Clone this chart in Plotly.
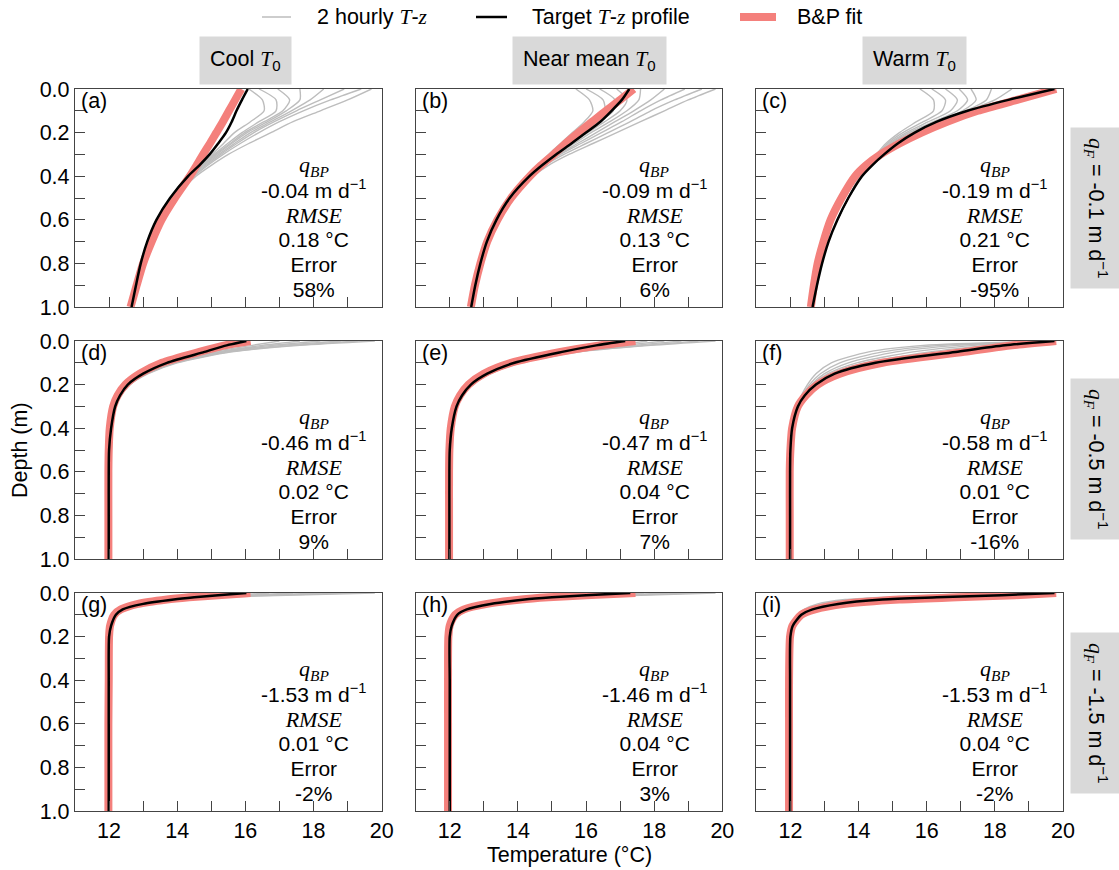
import plotly.graph_objects as go
from plotly.subplots import make_subplots

# ---------------- data ----------------
PANEL_LABELS = ["(a)", "(b)", "(c)", "(d)", "(e)", "(f)", "(g)", "(h)", "(i)"]
COL_TITLES = ["Cool", "Near mean", "Warm"]
ROW_QF = ["-0.1", "-0.5", "-1.5"]
Q_BP = ["-0.04", "-0.09", "-0.19", "-0.46", "-0.47", "-0.58", "-1.53", "-1.46", "-1.53"]
RMSE = ["0.18", "0.13", "0.21", "0.02", "0.04", "0.01", "0.01", "0.04", "0.04"]
ERROR = ["58%", "6%", "-95%", "9%", "7%", "-16%", "-2%", "3%", "-2%"]

X_MAJOR = [12, 14, 16, 18, 20]
X_MINOR = [13, 15, 17, 19]
Y_MAJOR = [0.0, 0.2, 0.4, 0.6, 0.8, 1.0]
Y_MINOR = [0.1, 0.3, 0.5, 0.7, 0.9]

# depth grids (m)
R1_DEPTH = [0, 0.05, 0.1, 0.15, 0.2, 0.25, 0.3, 0.35, 0.4, 0.5, 0.6, 0.7, 0.8, 0.9, 1.0]
R1_GRAY_DEPTH = [0, 0.05, 0.1, 0.15, 0.2, 0.25, 0.3, 0.35, 0.4, 0.5, 0.6]
R2_DEPTH = [0, 0.02, 0.05, 0.1, 0.15, 0.2, 0.25, 0.3, 0.4, 0.5, 0.6, 0.8, 1.0]
R2_GRAY_DEPTH = [0, 0.02, 0.05, 0.1, 0.15, 0.2, 0.25, 0.3, 0.4]
R3_DEPTH = [0, 0.01, 0.02, 0.03, 0.05, 0.075, 0.1, 0.15, 0.2, 0.4, 0.6, 0.8, 1.0]
R3_GRAY_DEPTH = [0, 0.01, 0.02, 0.03, 0.05, 0.075, 0.1, 0.15, 0.2]

# temperatures (deg C) — target profile, B&P fit, 2-hourly profiles
TARGET_A = [16.07, 15.9, 15.74, 15.6, 15.43, 15.2, 14.95, 14.65, 14.32, 13.79, 13.39, 13.12, 12.93, 12.79, 12.66]
FIT_A = [15.88, 15.7, 15.52, 15.34, 15.15, 14.96, 14.76, 14.57, 14.37, 13.93, 13.54, 13.25, 13.0, 12.81, 12.63]
GRAY_A = [
    [19.7, 19.0, 18.2, 17.4, 16.75, 16.1, 15.5, 15.0, 14.55, 13.9, 13.42],
    [19.4, 18.5, 17.7, 17.0, 16.4, 15.85, 15.35, 14.9, 14.5, 13.87, 13.4],
    [18.9, 18.2, 17.5, 16.85, 16.25, 15.75, 15.28, 14.85, 14.47, 13.85, 13.4],
    [18.3, 17.9, 17.35, 16.75, 16.15, 15.68, 15.22, 14.8, 14.43, 13.83, 13.4],
    [17.6, 17.6, 17.2, 16.65, 16.05, 15.6, 15.16, 14.76, 14.4, 13.82, 13.4],
    [16.95, 17.3, 17.1, 16.55, 15.98, 15.55, 15.12, 14.73, 14.38, 13.81, 13.4],
    [16.4, 16.9, 16.9, 16.4, 15.9, 15.48, 15.08, 14.7, 14.36, 13.8, 13.4],
    [16.1, 16.5, 16.55, 16.15, 15.68, 15.36, 15.02, 14.67, 14.34, 13.8, 13.4],
]
TARGET_B = [17.27, 17.05, 16.75, 16.42, 16.0, 15.57, 15.12, 14.71, 14.34, 13.76, 13.37, 13.09, 12.9, 12.75, 12.63]
FIT_B = [17.4, 17.0, 16.58, 16.18, 15.78, 15.4, 15.05, 14.68, 14.35, 13.8, 13.4, 13.1, 12.9, 12.74, 12.62]
GRAY_B = [
    [19.8, 19.0, 18.3, 17.6, 16.9, 16.2, 15.5, 14.9, 14.45, 13.8, 13.4],
    [19.4, 18.6, 17.9, 17.3, 16.65, 16.0, 15.35, 14.8, 14.4, 13.78, 13.39],
    [18.9, 18.2, 17.6, 17.05, 16.45, 15.85, 15.25, 14.75, 14.38, 13.77, 13.38],
    [18.3, 17.9, 17.4, 16.85, 16.3, 15.75, 15.2, 14.72, 14.36, 13.77, 13.38],
    [17.6, 17.55, 17.2, 16.7, 16.15, 15.65, 15.15, 14.7, 14.35, 13.77, 13.38],
    [16.9, 17.2, 17.0, 16.55, 16.05, 15.58, 15.1, 14.68, 14.34, 13.77, 13.38],
    [16.4, 16.85, 16.8, 16.4, 15.95, 15.5, 15.05, 14.66, 14.33, 13.77, 13.38],
    [16.0, 16.5, 16.55, 16.2, 15.8, 15.4, 14.98, 14.62, 14.32, 13.77, 13.38],
    [15.7, 16.1, 16.2, 15.95, 15.6, 15.25, 14.9, 14.58, 14.3, 13.76, 13.38],
]
TARGET_C = [19.75, 18.4, 17.2, 16.3, 15.65, 15.15, 14.75, 14.4, 14.1, 13.7, 13.38, 13.12, 12.93, 12.78, 12.65]
FIT_C = [19.8, 18.65, 17.5, 16.6, 15.85, 15.2, 14.65, 14.22, 13.9, 13.5, 13.18, 12.97, 12.8, 12.69, 12.6]
GRAY_C = [
    [18.5, 18.0, 17.2, 16.35, 15.65, 15.1, 14.7, 14.38, 14.1, 13.7, 13.38],
    [17.9, 17.75, 17.15, 16.35, 15.6, 15.05, 14.68, 14.36, 14.08, 13.7, 13.38],
    [17.3, 17.45, 17.05, 16.3, 15.55, 15.0, 14.65, 14.35, 14.08, 13.7, 13.38],
    [16.95, 17.2, 16.9, 16.2, 15.48, 14.95, 14.62, 14.33, 14.07, 13.7, 13.38],
    [16.55, 16.9, 16.7, 16.05, 15.4, 14.9, 14.58, 14.3, 14.06, 13.7, 13.38],
    [16.15, 16.55, 16.45, 15.9, 15.3, 14.85, 14.55, 14.28, 14.05, 13.7, 13.38],
    [15.8, 16.2, 16.2, 15.7, 15.2, 14.8, 14.52, 14.26, 14.04, 13.7, 13.38],
]

TARGET_D = [16.03, 15.45, 14.8, 13.7, 13.0, 12.55, 12.32, 12.18, 12.06, 12.0, 11.99, 11.99, 11.99]
FIT_D = [16.15, 15.4, 14.65, 13.55, 12.9, 12.48, 12.25, 12.12, 12.02, 11.99, 11.98, 11.98, 11.98]
GRAY_D = [
    [19.8, 17.6, 15.6, 14.0, 13.15, 12.62, 12.35, 12.2, 12.06],
    [19.3, 17.4, 15.5, 13.95, 13.12, 12.6, 12.34, 12.2, 12.06],
    [18.8, 17.1, 15.4, 13.9, 13.1, 12.6, 12.34, 12.2, 12.06],
    [18.2, 16.8, 15.3, 13.85, 13.08, 12.58, 12.33, 12.19, 12.06],
    [17.6, 16.5, 15.2, 13.8, 13.05, 12.57, 12.33, 12.19, 12.06],
    [17.0, 16.2, 15.05, 13.75, 13.03, 12.56, 12.32, 12.19, 12.06],
]
TARGET_E = [17.15, 16.3, 15.3, 13.9, 13.1, 12.62, 12.36, 12.2, 12.06, 12.0, 11.99, 11.99, 11.99]
FIT_E = [17.45, 16.4, 15.25, 13.8, 13.0, 12.55, 12.3, 12.15, 12.03, 11.99, 11.98, 11.98, 11.98]
GRAY_E = [
    [19.8, 17.9, 15.8, 14.1, 13.2, 12.68, 12.38, 12.22, 12.06],
    [19.3, 17.7, 15.7, 14.05, 13.18, 12.66, 12.37, 12.21, 12.06],
    [18.8, 17.4, 15.6, 14.0, 13.15, 12.65, 12.37, 12.21, 12.06],
    [18.3, 17.1, 15.5, 13.95, 13.12, 12.64, 12.36, 12.2, 12.06],
    [17.8, 16.8, 15.4, 13.92, 13.1, 12.63, 12.36, 12.2, 12.06],
    [17.3, 16.4, 15.2, 13.8, 13.05, 12.6, 12.34, 12.2, 12.06],
]
TARGET_F = [19.75, 18.3, 16.85, 14.5, 13.3, 12.75, 12.42, 12.22, 12.05, 12.0, 11.99, 11.99, 11.99]
FIT_F = [19.8, 18.5, 17.1, 14.7, 13.45, 12.8, 12.45, 12.22, 12.05, 12.0, 11.98, 11.98, 11.98]
GRAY_F = [
    [19.8, 15.9, 14.3, 13.2, 12.75, 12.5, 12.32, 12.18, 12.05],
    [19.7, 16.4, 14.7, 13.45, 12.88, 12.56, 12.35, 12.2, 12.05],
    [19.6, 16.9, 15.1, 13.7, 13.0, 12.62, 12.38, 12.2, 12.05],
    [19.5, 17.4, 15.6, 13.95, 13.1, 12.66, 12.4, 12.21, 12.05],
    [19.3, 17.8, 16.1, 14.2, 13.2, 12.7, 12.42, 12.22, 12.05],
]

TARGET_G = [16.03, 15.2, 14.5, 13.9, 13.0, 12.4, 12.2, 12.06, 12.0, 11.99, 11.99, 11.99, 11.99]
FIT_G = [16.15, 15.2, 14.35, 13.7, 12.85, 12.35, 12.15, 12.03, 12.0, 11.99, 11.98, 11.98, 11.98]
GRAY_G = [
    [19.8, 17.2, 15.3, 14.2, 13.1, 12.45, 12.2, 12.05, 12.0],
    [19.0, 16.8, 15.1, 14.1, 13.05, 12.43, 12.2, 12.05, 12.0],
    [18.2, 16.4, 14.9, 14.0, 13.0, 12.42, 12.2, 12.05, 12.0],
    [17.4, 16.0, 14.7, 13.9, 13.0, 12.42, 12.2, 12.05, 12.0],
    [16.7, 15.6, 14.6, 13.9, 13.0, 12.4, 12.2, 12.05, 12.0],
]
TARGET_H = [17.3, 16.0, 15.0, 14.2, 13.2, 12.5, 12.22, 12.06, 12.0, 12.0, 12.0, 12.0, 12.0]
FIT_H = [17.45, 16.0, 14.9, 14.1, 13.1, 12.42, 12.16, 12.0, 11.96, 11.95, 11.95, 11.95, 11.95]
GRAY_H = [
    [19.8, 17.6, 15.6, 14.5, 13.3, 12.55, 12.25, 12.06, 12.0],
    [19.1, 17.2, 15.4, 14.4, 13.25, 12.53, 12.24, 12.06, 12.0],
    [18.4, 16.8, 15.2, 14.3, 13.2, 12.52, 12.23, 12.06, 12.0],
    [17.7, 16.4, 15.1, 14.25, 13.2, 12.5, 12.22, 12.06, 12.0],
]
TARGET_I = [19.75, 18.2, 16.3, 14.7, 13.4, 12.65, 12.32, 12.07, 12.0, 11.99, 11.99, 11.99, 11.99]
FIT_I = [19.8, 18.6, 16.9, 15.2, 13.6, 12.72, 12.32, 12.06, 11.99, 11.96, 11.96, 11.96, 11.96]
GRAY_I = [
    [19.8, 16.5, 14.6, 13.6, 12.8, 12.4, 12.2, 12.05, 12.0],
    [19.7, 17.0, 15.1, 13.95, 12.95, 12.45, 12.24, 12.06, 12.0],
    [19.6, 17.5, 15.6, 14.3, 13.1, 12.5, 12.26, 12.06, 12.0],
    [19.5, 17.9, 16.0, 14.5, 13.25, 12.58, 12.28, 12.07, 12.0],
]

TARGETS = [TARGET_A, TARGET_B, TARGET_C, TARGET_D, TARGET_E, TARGET_F, TARGET_G, TARGET_H, TARGET_I]
FITS = [FIT_A, FIT_B, FIT_C, FIT_D, FIT_E, FIT_F, FIT_G, FIT_H, FIT_I]
GRAYS = [GRAY_A, GRAY_B, GRAY_C, GRAY_D, GRAY_E, GRAY_F, GRAY_G, GRAY_H, GRAY_I]
ROW_DEPTH = [R1_DEPTH, R2_DEPTH, R3_DEPTH]
ROW_GRAY_DEPTH = [R1_GRAY_DEPTH, R2_GRAY_DEPTH, R3_GRAY_DEPTH]

# ---------------- styling ----------------
SANS = "Liberation Sans, Arial, sans-serif"
SERIF = "Liberation Serif, Times New Roman, serif"
FS = 21.5
FS_STATS = 21
FS_MATH = 22
GRAY_COL = "#bdbdbd"
FIT_COL = "rgb(244,128,124)"
FRAME_COL = "#444444"

W, H = 1119, 870
ML, MR, MT, MB = 75, 56, 89, 59
PW, PH = W - ML - MR, H - MT - MB


def px_x(px):
    return (px - ML) / PW


def px_y(py):
    return (MT + PH - py) / PH


def it(s):
    return f"<span style='font-family:{SERIF}'><i>{s}</i></span>"


def sized(s, fam, size):
    return f"<span style='font-family:{fam};font-size:{size}px'>{s}</span>"


fig = make_subplots(rows=3, cols=3, horizontal_spacing=34 / PW, vertical_spacing=34 / PH)

for k in range(9):
    r, c = k // 3 + 1, k % 3 + 1
    depth = ROW_DEPTH[r - 1]
    gdepth = ROW_GRAY_DEPTH[r - 1]
    for g in GRAYS[k]:
        fig.add_trace(go.Scatter(
            x=g, y=gdepth, mode="lines",
            line=dict(color=GRAY_COL, width=1.4, shape="spline", smoothing=0.7),
            name="2 hourly T-z", showlegend=False, hoverinfo="skip"), row=r, col=c)
    fig.add_trace(go.Scatter(
        x=FITS[k], y=depth, mode="lines",
        line=dict(color=FIT_COL, width=8, shape="spline", smoothing=0.7),
        name="B&P fit", showlegend=False, hoverinfo="skip"), row=r, col=c)
    fig.add_trace(go.Scatter(
        x=TARGETS[k], y=depth, mode="lines",
        line=dict(color="black", width=2.5, shape="spline", smoothing=0.7),
        name="Target T-z profile", showlegend=False, hoverinfo="skip"), row=r, col=c)

tick_common = dict(ticks="inside", ticklen=10, tickwidth=1.3, tickcolor=FRAME_COL)
for k in range(9):
    r, c = k // 3 + 1, k % 3 + 1
    fig.update_xaxes(range=[11, 20], tickmode="array", tickvals=X_MAJOR,
                     ticktext=[str(v) for v in X_MAJOR], showticklabels=(r == 3),
                     minor=dict(tickvals=X_MINOR, showgrid=False, **tick_common),
                     showline=True, mirror=True, linecolor=FRAME_COL, linewidth=1.3,
                     showgrid=False, zeroline=False,
                     tickfont=dict(family=SANS, size=FS, color="black"),
                     row=r, col=c, **tick_common)
    fig.update_yaxes(range=[1, 0], tickmode="array", tickvals=Y_MAJOR,
                     ticktext=[f"{v:.1f}" for v in Y_MAJOR], showticklabels=(c == 1),
                     minor=dict(tickvals=Y_MINOR, showgrid=False, **tick_common),
                     showline=True, mirror=True, linecolor=FRAME_COL, linewidth=1.3,
                     showgrid=False, zeroline=False,
                     tickfont=dict(family=SANS, size=FS, color="black"),
                     row=r, col=c, **tick_common)

annotations = []
shapes = []
for k in range(9):
    xr = "x" if k == 0 else f"x{k + 1}"
    yr = "y" if k == 0 else f"y{k + 1}"
    annotations.append(dict(x=11.12, y=0.055, xref=xr, yref=yr, text=PANEL_LABELS[k],
                            showarrow=False, xanchor="left", yanchor="middle",
                            font=dict(family=SANS, size=FS, color="black")))
    annotations.append(dict(x=18.0, y=0.355, xref=xr, yref=yr,
                            text="<i>q</i><sub><i>BP</i></sub>", showarrow=False,
                            xanchor="center", yanchor="middle",
                            font=dict(family=SERIF, size=FS_MATH, color="black")))
    block = "<br>".join([
        sized(f"{Q_BP[k]} m d<sup>−1</sup>", SANS, FS_STATS),
        sized("<i>RMSE</i>", SERIF, FS_MATH),
        sized(f"{RMSE[k]} °C", SANS, FS_STATS),
        sized("Error", SANS, FS_STATS),
        sized(ERROR[k], SANS, FS_STATS),
    ])
    annotations.append(dict(x=18.0, y=0.686, xref=xr, yref=yr, text=block, showarrow=False,
                            xanchor="center", yanchor="middle", align="center",
                            font=dict(family=SANS, size=19, color="black")))

# column headers
HEADER_X = [245, 589, 914]
for name, px in zip(COL_TITLES, HEADER_X):
    annotations.append(dict(x=px_x(px), y=px_y(60), xref="paper", yref="paper",
                            text=f"{name} " + it("T") + "<sub>0</sub>", showarrow=False,
                            xanchor="center", yanchor="middle", bgcolor="#d9d9d9",
                            borderpad=10, font=dict(family=SANS, size=FS, color="black")))

# row labels
ROW_CENTER_PX = [208, 459, 713]
for qf, py in zip(ROW_QF, ROW_CENTER_PX):
    annotations.append(dict(x=px_x(1097), y=px_y(py), xref="paper", yref="paper",
                            text=it("q") + "<sub>" + it("F") + "</sub> = " + qf + " m d<sup>−1</sup>",
                            showarrow=False, textangle=90, xanchor="center", yanchor="middle",
                            bgcolor="#d9d9d9", borderpad=10,
                            font=dict(family=SANS, size=FS, color="black")))

# axis titles
annotations.append(dict(x=px_x(20), y=0.5, xref="paper", yref="paper", text="Depth (m)",
                        showarrow=False, textangle=-90, xanchor="center", yanchor="middle",
                        font=dict(family=SANS, size=FS, color="black")))
annotations.append(dict(x=px_x(569), y=px_y(855), xref="paper", yref="paper",
                        text="Temperature (°C)", showarrow=False, xanchor="center", yanchor="middle",
                        font=dict(family=SANS, size=FS, color="black")))

# legend (drawn as keys + labels)
LEGEND_ITEMS = [
    ("2 hourly " + it("T") + "-" + it("z"), GRAY_COL, 1.5, 262, 291, 315),
    ("Target " + it("T") + "-" + it("z") + " profile", "black", 2.5, 476, 507, 530),
    ("B&P fit", FIT_COL, 8, 740, 776, 795),
]
LEG_Y = 17
for label, col, wdt, x0, x1, tx in LEGEND_ITEMS:
    shapes.append(dict(type="line", xref="paper", yref="paper", x0=px_x(x0), x1=px_x(x1),
                       y0=px_y(LEG_Y), y1=px_y(LEG_Y), line=dict(color=col, width=wdt)))
    annotations.append(dict(x=px_x(tx), y=px_y(LEG_Y), xref="paper", yref="paper", text=label,
                            showarrow=False, xanchor="left", yanchor="middle",
                            font=dict(family=SANS, size=FS, color="black")))

fig.update_layout(
    width=W, height=H,
    margin=dict(l=ML, r=MR, t=MT, b=MB),
    paper_bgcolor="white", plot_bgcolor="white",
    annotations=annotations, shapes=shapes,
    showlegend=False,
)

fig.write_html("out.html")
